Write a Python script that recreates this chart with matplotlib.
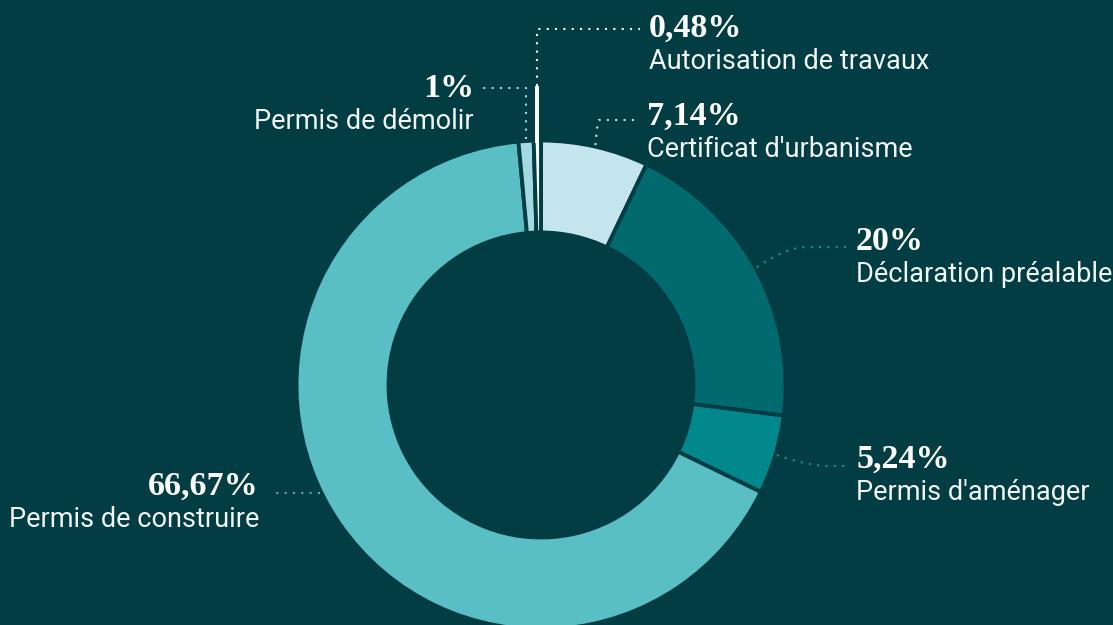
import numpy as np
import matplotlib.pyplot as plt

categories = ["Certificat d'urbanisme", "Déclaration préalable", "Permis d'aménager",
              "Permis de construire", "Permis de démolir", "Autorisation de travaux"]
shares = [7.14, 20, 5.24, 66.67, 1, 0.48]

BG = '#013d42'
colors = ['#c4e4ee', '#006a6f', '#00888d', '#59bfc5', '#a4d9e1', '#f4f8f8']
line_colors = ['#c4e4ee', '#1a9095', '#1a9095', '#43b3b9', '#a4d9e1', '#ffffff']

# label layout in pixels (y from top): text x, pct baseline, alignment, elbow, line end
layout = {
    "Certificat d'urbanisme": dict(tx=647, ty=125, ha='left', elbow=(599, 120), end=640),
    "Déclaration préalable": dict(tx=856, ty=250, ha='left', elbow=(807, 247), end=848),
    "Permis d'aménager": dict(tx=856, ty=468, ha='left', elbow=(830, 466), end=848),
    "Permis de construire": dict(tx=259, ty=495, ha='right', elbow=(None, 493), end=270),
    "Permis de démolir": dict(tx=474, ty=97, ha='right', elbow=(None, 88), end=482),
    "Autorisation de travaux": dict(tx=649, ty=37, ha='left', elbow=(None, 29), end=640, stem=86),
}

fig = plt.figure(figsize=(11.13, 6.25), dpi=100, facecolor=BG)
ax = fig.add_axes([0, 0, 1, 1])
ax.set_facecolor(BG)

cx, cy, R, r_in = 541, 385, 244.5, 152.5
wedges, _ = ax.pie(shares, colors=colors, startangle=-90, counterclock=True,
                   center=(cx, cy), radius=R,
                   wedgeprops=dict(width=R - r_in, edgecolor=BG, linewidth=2.8))
ax.set_xlim(0, 1113)
ax.set_ylim(625, 0)
ax.axis('off')


def dotted(xs, ys, color):
    ax.plot(xs, ys, color=color, lw=1.5, ls=(0, (1, 3)))


for w, cat, share, lc in zip(wedges, categories, shares, line_colors):
    lay = layout[cat]
    ex, ey = lay['elbow']
    if cat == "Permis de construire":
        # horizontal leader meeting the ring at the label height
        a = np.array([cx - np.sqrt(R**2 - (ey - cy)**2) - 2, ey])
    else:
        mid = np.deg2rad((w.theta1 + w.theta2) / 2)
        a = np.array([cx + 246 * np.cos(mid), cy + 246 * np.sin(mid)])
    if ex is None:
        ex = a[0]
    if 'stem' in lay:
        ax.plot([a[0], a[0]], [a[1] + 4, lay['stem']], color=lc, lw=2.8, solid_capstyle='butt')
        a = np.array([a[0], lay['stem']])
    e = np.array([ex, ey])
    c = np.array([a[0] + 0.6 * (ex - a[0]), ey])
    t = np.linspace(0, 1, 25)[:, None]
    curve = (1 - t) ** 2 * a + 2 * (1 - t) * t * c + t ** 2 * e
    xs = list(curve[:, 0]) + [lay['end']]
    ys = list(curve[:, 1]) + [ey]
    dotted(xs, ys, lc)

    pct = f"{share:g}".replace('.', ',') + '%'
    ax.text(lay['tx'], lay['ty'], pct, ha=lay['ha'], va='baseline', color='white',
            family='Liberation Serif', weight='bold', fontsize=24.5)
    ax.text(lay['tx'], lay['ty'] + 32, cat, ha=lay['ha'], va='baseline', color='#f2f6f6',
            family='Roboto', fontsize=19.5)

fig.savefig('out.png', dpi=100, facecolor=BG)
